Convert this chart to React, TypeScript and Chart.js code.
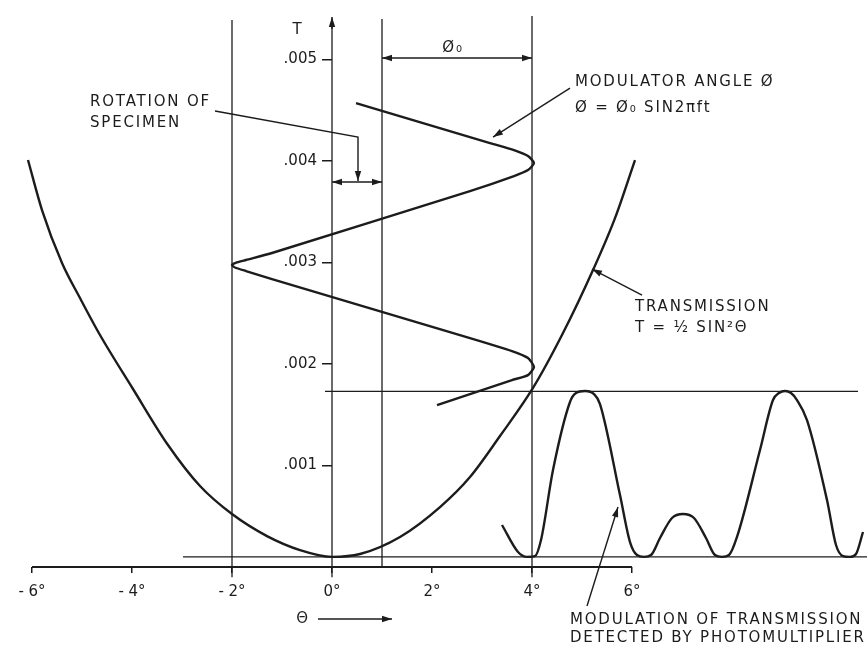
import { useEffect, useRef } from 'react';
import { Chart, registerables } from 'chart.js';

Chart.register(...registerables);

// ---------- axis ticks ----------
const thetaTickValues = [-6, -4, -2, 0, 2, 4, 6];
const thetaTickLabels = ['- 6°', '- 4°', '- 2°', '0°', '2°', '4°', '6°'];
const tTickValues = [0.001, 0.002, 0.003, 0.004, 0.005];
const tTickLabels = ['.001', '.002', '.003', '.004', '.005'];

// ---------- transmission curve T = 1/2 sin^2 θ (as drawn) ----------
const transmissionTheta = [-6.08, -5.8, -5.4, -5.04, -4.64, -3.98, -3.28, -2.64, -2.0, -1.3, -0.64, 0, 0.56, 1.36, 2.16, 2.76, 3.36, 4.02, 4.62, 5.22, 5.66, 6.06];
const transmissionT = [0.00401, 0.003517, 0.002995, 0.00265, 0.002286, 0.001754, 0.001202, 0.000798, 0.000522, 0.000305, 0.000167, 0.0001, 0.000128, 0.000296, 0.000591, 0.000887, 0.001291, 0.001764, 0.002305, 0.002926, 0.003438, 0.00401];

// ---------- modulator angle φ = φ0 sin 2πft (time runs down the T axis) ----------
const modulatorTheta = [0.48, 3.16, 3.64, 3.92, 4.04, 3.92, 3.64, 2.76, -1.2, -1.72, -1.94, -2.0, -1.94, -1.72, -1.2, 2.76, 3.6, 3.92, 4.04, 3.92, 3.6, 2.1];
const modulatorT = [0.004571, 0.004177, 0.004108, 0.004049, 0.00398, 0.003911, 0.003852, 0.003704, 0.003094, 0.003025, 0.002995, 0.002975, 0.002951, 0.002916, 0.002837, 0.002256, 0.002128, 0.002059, 0.00197, 0.001891, 0.001842, 0.001596];

// ---------- modulation of transmission detected by photomultiplier ----------
const modulationTheta = [3.4, 3.72, 3.9, 4.06, 4.18, 4.42, 4.76, 4.88, 5.06, 5.24, 5.36, 5.76, 5.96, 6.1, 6.24, 6.38, 6.56, 6.8, 7.02, 7.24, 7.48, 7.66, 7.8, 7.94, 8.1, 8.56, 8.82, 8.94, 9.06, 9.18, 9.3, 9.5, 9.9, 10.08, 10.22, 10.36, 10.48, 10.62];
const modulationT = [0.000414, 0.000148, 0.0001, 0.000108, 0.000266, 0.000956, 0.001626, 0.001714, 0.001734, 0.001704, 0.001606, 0.000709, 0.000246, 0.000118, 0.0001, 0.000118, 0.000286, 0.000483, 0.000522, 0.000483, 0.000286, 0.000118, 0.0001, 0.000118, 0.000296, 0.001153, 0.001645, 0.001714, 0.001734, 0.001714, 0.001645, 0.001448, 0.00066, 0.000217, 0.000108, 0.0001, 0.000128, 0.000345];

// ---------- construction lines ([θ1, θ2], [T1, T2]) ----------
const guideTheta = [[-2, -2], [0, 0], [1, 1], [4, 4], [-6, 6], [-2.98, 10.7], [-0.14, 10.52]];
const guideT = [[-0.0001, 0.00539], [-0.0001, 0.0054], [0, 0.0054], [-0.0001, 0.00543], [0, 0], [0.0001, 0.0001], [0.00173, 0.00173]];

// ---------- arrows (θ, T paths) ----------
const arrowPaths: { path: number[][]; start?: boolean; end?: boolean }[] = [
  { path: [[0, 0.0053], [0, 0.005419]], end: true },
  { path: [[1, 0.005015], [4, 0.005015]], start: true, end: true },
  { path: [[0, 0.003793], [1, 0.003793]], start: true, end: true },
  { path: [[-2.34, 0.004493], [0.52, 0.004236], [0.52, 0.003803]], end: true },
  { path: [[4.76, 0.004719], [3.22, 0.004236]], end: true },
  { path: [[6.2, 0.00268], [5.2, 0.002936]], end: true },
  { path: [[5.1, -0.000384], [5.72, 0.000591]], end: true },
  { path: [[-0.28, -0.000512], [1.2, -0.000512]], end: true },
];

// ---------- text ----------
const labelTexts = ['T', 'Ø₀', 'ROTATION OF', 'SPECIMEN', 'MODULATOR ANGLE Ø', 'Ø = Ø₀ SIN2πft', 'TRANSMISSION', 'T = ½ SIN²Θ', 'MODULATION OF TRANSMISSION', 'DETECTED BY PHOTOMULTIPLIER', 'Θ'];
const labelTheta = [-0.68, 2.42, -4.84, -4.84, 4.86, 4.86, 6.06, 6.06, 4.76, 4.76, -0.58];
const labelT = [0.00529, 0.005113, 0.004581, 0.004374, 0.004778, 0.004522, 0.002562, 0.002355, -0.000522, -0.0007, -0.000512];
const labelAlign: CanvasTextAlign[] = ['center', 'center', 'left', 'left', 'left', 'left', 'left', 'left', 'left', 'left', 'center'];

const INK = '#1c1c1c';
const FONT = '"DejaVu Sans", "Liberation Sans", sans-serif';

const toPoints = (xs: number[], ys: number[]) => xs.map((v, i) => ({ x: v, y: ys[i] }));

const annotationPlugin = {
  id: 'annotations',
  afterDatasetsDraw(chart: any) {
    const { ctx, scales } = chart;
    const sx = scales.x;
    const sy = scales.y;
    const P = (p: number[]) => [sx.getPixelForValue(p[0]), sy.getPixelForValue(p[1])];
    ctx.save();
    ctx.strokeStyle = INK;
    ctx.fillStyle = INK;
    ctx.lineWidth = 1.4;
    const head = (from: number[], to: number[]) => {
      const ang = Math.atan2(to[1] - from[1], to[0] - from[0]);
      const len = 10;
      const hw = 3.2;
      const bx = to[0] - len * Math.cos(ang);
      const by = to[1] - len * Math.sin(ang);
      ctx.beginPath();
      ctx.moveTo(to[0], to[1]);
      ctx.lineTo(bx + hw * Math.sin(ang), by - hw * Math.cos(ang));
      ctx.lineTo(bx - hw * Math.sin(ang), by + hw * Math.cos(ang));
      ctx.closePath();
      ctx.fill();
    };
    for (const a of arrowPaths) {
      const pts = a.path.map(P);
      ctx.beginPath();
      pts.forEach((p, i) => (i ? ctx.lineTo(p[0], p[1]) : ctx.moveTo(p[0], p[1])));
      ctx.stroke();
      if (a.end) head(pts[pts.length - 2], pts[pts.length - 1]);
      if (a.start) head(pts[1], pts[0]);
    }
    ctx.textBaseline = 'middle';
    ctx.font = `15px ${FONT}`;
    try { (ctx as any).letterSpacing = '1.8px'; } catch (e) { /* ignore */ }
    labelTexts.forEach((t, i) => {
      ctx.textAlign = labelAlign[i];
      const p = P([labelTheta[i], labelT[i]]);
      ctx.fillText(t, p[0], p[1]);
    });
    try { (ctx as any).letterSpacing = '0px'; } catch (e) { /* ignore */ }
    ctx.restore();
  },
};

export default function App() {
  const ref = useRef<HTMLCanvasElement>(null);
  useEffect(() => {
    const curve = { showLine: true, pointRadius: 0, borderColor: INK, backgroundColor: INK, fill: false };
    const guides = guideTheta.map((xs, i) => ({
      ...curve,
      data: toPoints(xs, guideT[i]),
      borderWidth: i === 4 ? 1.8 : 1.3,
      tension: 0,
    }));
    const chart = new Chart(ref.current as HTMLCanvasElement, {
      type: 'scatter',
      data: {
        datasets: [
          { ...curve, data: toPoints(transmissionTheta, transmissionT), borderWidth: 2.4, cubicInterpolationMode: 'monotone' },
          { ...curve, data: toPoints(modulatorTheta, modulatorT), borderWidth: 2.4, tension: 0.2 },
          { ...curve, data: toPoints(modulationTheta, modulationT), borderWidth: 2.4, cubicInterpolationMode: 'monotone' },
          ...guides,
        ] as any,
      },
      options: {
        responsive: false,
        animation: false,
        events: [],
        layout: { padding: 0 },
        plugins: { legend: { display: false }, tooltip: { enabled: false } },
        scales: {
          x: {
            type: 'linear',
            min: -6.64,
            max: 10.7,
            position: { y: 0 } as any,
            border: { display: false },
            grid: { drawOnChartArea: false, drawTicks: true, tickLength: 6, color: INK, lineWidth: 1.5 },
            afterBuildTicks: (s: any) => { s.ticks = thetaTickValues.map((v) => ({ value: v })); },
            ticks: {
              padding: 10,
              color: INK,
              font: { family: FONT, size: 15 },
              autoSkip: false,
              maxRotation: 0,
              callback: (v: any) => thetaTickLabels[thetaTickValues.indexOf(Number(v))] ?? '',
            },
          },
          y: {
            type: 'linear',
            min: -0.000719,
            max: 0.005498,
            position: { x: 0 } as any,
            border: { display: false },
            grid: { drawOnChartArea: false, drawTicks: true, tickLength: 10, color: INK, lineWidth: 1.5 },
            afterBuildTicks: (s: any) => { s.ticks = tTickValues.map((v) => ({ value: v })); },
            ticks: {
              padding: 0,
              color: INK,
              font: { family: FONT, size: 15 },
              autoSkip: false,
              // labels sit at the axis line when the axis is placed at θ = 0; pad them clear of the tick marks
              callback: (v: any) => {
                const label = tTickLabels[tTickValues.indexOf(Number(v))];
                return label ? label + '\u2002\u2002' : '';
              },
            },
          },
        },
      },
      plugins: [annotationPlugin],
    });
    return () => chart.destroy();
  }, []);
  return (
    <div style={{ position: 'fixed', left: 0, top: 0, width: 867, height: 649, background: '#fff' }}>
      <canvas ref={ref} width={867} height={649} style={{ display: 'block' }} />
    </div>
  );
}
